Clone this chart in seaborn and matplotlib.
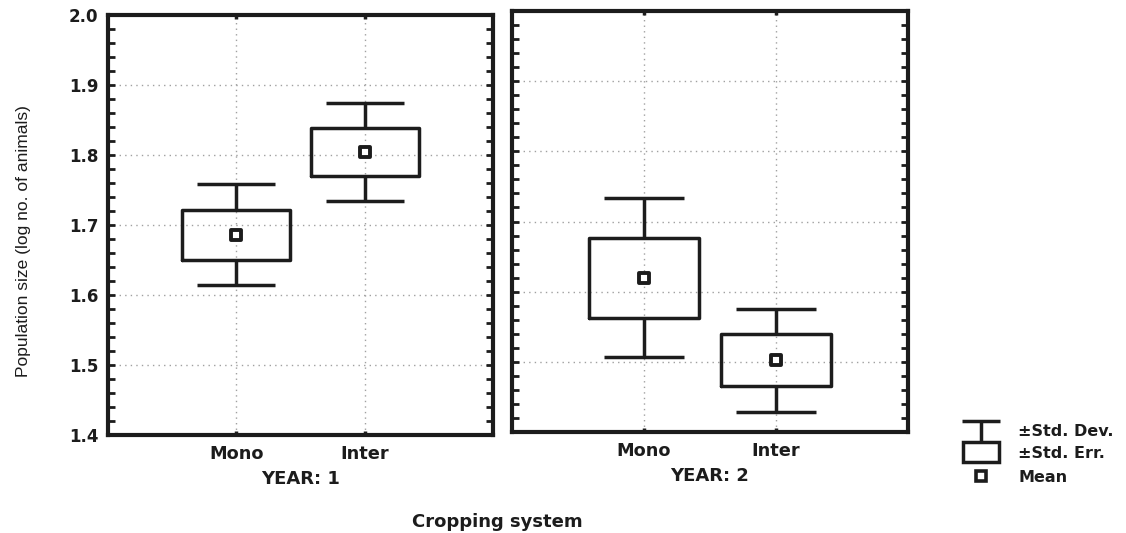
import numpy as np
import pandas as pd
import matplotlib
matplotlib.use("Agg")
import matplotlib.pyplot as plt
from matplotlib.patches import Rectangle
from matplotlib.ticker import MultipleLocator
import seaborn as sns

# Cropping-system means with standard error and standard deviation (log no. of animals)
systems = ["Mono", "Inter"]
year_labels = ["YEAR: 1", "YEAR: 2"]
mean_year1 = [1.686, 1.804]
se_year1 = [0.036, 0.034]
sd_year1 = [0.072, 0.070]
mean_year2 = [1.620, 1.502]
se_year2 = [0.057, 0.037]
sd_year2 = [0.113, 0.073]

y_major = [1.4, 1.5, 1.6, 1.7, 1.8, 1.9, 2.0]
legend_labels = ["\u00b1Std. Dev.", "\u00b1Std. Err.", "Mean"]
x_title = "Cropping system"
y_title = "Population size (log no. of animals)"

df = pd.DataFrame({
    "year": [1, 1, 2, 2],
    "system": systems * 2,
    "mean": mean_year1 + mean_year2,
    "se": se_year1 + se_year2,
    "sd": sd_year1 + sd_year2,
})

sns.set_theme(style="ticks")
plt.rcParams["font.family"] = ["DejaVu Sans"]
LABEL_FONT = ["Liberation Sans", "DejaVu Sans"]

INK = "#1c1c1c"
GRID = "#a0a0a0"
LW = 2.5

fig = plt.figure(figsize=(11.26, 5.33), dpi=100)
ax1 = fig.add_axes([108 / 1126, 1 - 435 / 533, 385 / 1126, 420 / 533])
ax2 = fig.add_axes([512 / 1126, 1 - 432 / 533, 396 / 1126, 421 / 533])

for year, ax, ylab in zip([1, 2], [ax1, ax2], year_labels):
    sub = df[df["year"] == year].reset_index(drop=True)
    stats = []
    for _, r in sub.iterrows():
        stats.append(dict(med=r["mean"], q1=r["mean"] - r["se"], q3=r["mean"] + r["se"],
                          whislo=r["mean"] - r["sd"], whishi=r["mean"] + r["sd"],
                          fliers=[], label=r["system"]))
    line = dict(color=INK, linewidth=LW, solid_capstyle="butt")
    ax.bxp(stats, positions=list(range(len(stats))), widths=0.84, capwidths=0.61,
           showfliers=False, manage_ticks=False, patch_artist=False,
           boxprops=dict(color=INK, linewidth=LW),
           whiskerprops=line, capprops=line,
           medianprops=dict(linewidth=0), zorder=3)
    sns.scatterplot(data=sub, x="system", y="mean", ax=ax, marker="s", s=52,
                    color="white", edgecolor=INK, linewidth=2.8, zorder=4, legend=False)

    ax.set_xlim(-1, 2)
    ax.set_ylim(1.4, 2.0)
    ax.set_xticks(range(len(systems)))
    ax.set_xticklabels(systems, fontsize=12.8, fontweight="bold", color=INK)
    ax.yaxis.set_major_locator(MultipleLocator(0.1))
    ax.yaxis.set_minor_locator(MultipleLocator(0.02))
    ax.set_yticks(y_major)
    ax.set_yticklabels([f"{v:.1f}" for v in y_major], fontsize=12, fontweight="bold", color=INK)
    ax.grid(True, which="major", linestyle=(0, (1, 3)), color=GRID, linewidth=1.0)
    ax.set_axisbelow(True)
    ax.tick_params(axis="y", which="both", direction="in", left=True, right=True,
                   length=5, width=2, color=INK, pad=7)
    ax.tick_params(axis="x", which="both", direction="in", top=True, bottom=True,
                   length=3, width=2.5, color=INK, pad=7)
    for sp in ax.spines.values():
        sp.set_linewidth(3)
        sp.set_color(INK)
    ax.set_facecolor("white")
    ax.set_xlabel(ylab, fontsize=13, fontweight="bold", color=INK)
    ax.xaxis.set_label_coords(0.5, -0.083)
    ax.set_ylabel("")

ax2.tick_params(axis="y", labelleft=False)
ax1.set_ylabel(y_title, fontsize=12.5, color=INK, family=LABEL_FONT)
ax1.yaxis.set_label_coords(-0.2, 0.461)

fig.text(497 / 1126, 1 - 522 / 533, x_title, ha="center", va="center",
         fontsize=13, fontweight="bold", color=INK)

# Legend panel drawn in its own pixel-scaled axes
lg = fig.add_axes([950 / 1126, 1 - 492 / 533, 176 / 1126, 82 / 533])
lg.set_xlim(950, 1126)
lg.set_ylim(492, 410)
lg.axis("off")
lg.plot([962, 1000], [421, 421], color=INK, lw=LW, solid_capstyle="butt")
lg.plot([981, 981], [421, 442], color=INK, lw=LW, solid_capstyle="butt")
lg.add_patch(Rectangle((963, 442), 36, 20, fill=False, edgecolor=INK, lw=LW))
lg.plot([981], [476], marker="s", ms=7.0, mfc="white", mec=INK, mew=2.6, ls="none")
for txt, yy in zip(legend_labels, [432, 454, 477]):
    lg.text(1018, yy, txt, ha="left", va="center", fontsize=11.5,
            fontweight="bold", color=INK)

fig.savefig("out.png", dpi=100, facecolor="white")
